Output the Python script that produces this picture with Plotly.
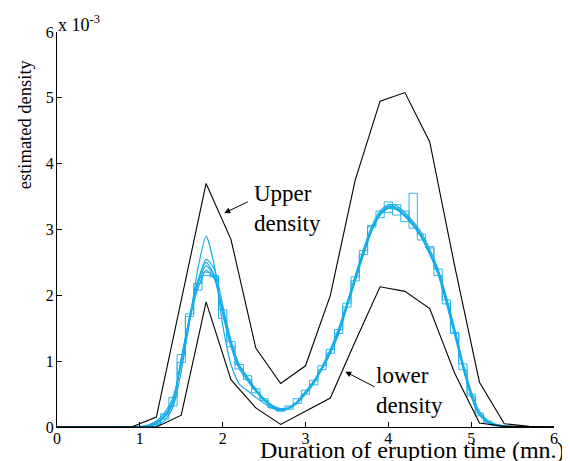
import plotly.graph_objects as go

# ---- data (density values in units of 1e-3) ----
bound_x = [0.0, 0.3, 0.6, 0.9, 1.2, 1.5, 1.8, 2.1, 2.4, 2.7, 3.0, 3.3, 3.6, 3.9, 4.2, 4.5, 4.8, 5.1, 5.4, 5.7, 6.0]
upper_density = [0, 0, 0, 0, 0.15, 1.93, 3.70, 2.85, 1.20, 0.66, 0.93, 2.00, 3.75, 4.95, 5.08, 4.33, 2.45, 0.68, 0.05, 0.01, 0]
lower_density = [0, 0, 0, 0, 0.0, 0.18, 1.90, 0.72, 0.29, 0.04, 0.24, 0.44, 1.30, 2.13, 2.06, 1.80, 0.82, 0.06, 0.01, 0, 0]

grid_x = [0.0, 1.0, 1.1, 1.2, 1.3, 1.4, 1.5, 1.6, 1.7, 1.8, 1.9, 2.0, 2.1, 2.2, 2.3, 2.4, 2.5, 2.6, 2.7, 2.8, 2.9,
          3.0, 3.1, 3.2, 3.3, 3.4, 3.5, 3.6, 3.7, 3.8, 3.9, 4.0, 4.1, 4.2, 4.3, 4.4, 4.5, 4.6, 4.7, 4.8, 4.9,
          5.0, 5.1, 5.2, 5.3, 5.4, 5.5, 5.6, 6.0]

smooth_1 = [0, 0.00, 0.01, 0.05, 0.15, 0.35, 1.05, 1.63, 2.10, 2.38, 2.25, 1.75, 1.27, 0.92, 0.74, 0.56, 0.41, 0.31, 0.26, 0.29, 0.38,
            0.53, 0.68, 0.90, 1.15, 1.45, 1.85, 2.25, 2.65, 3.00, 3.22, 3.32, 3.30, 3.20, 3.06, 2.88, 2.62, 2.34, 1.92, 1.43, 0.92,
            0.48, 0.19, 0.08, 0.03, 0.01, 0.00, 0.00, 0]
smooth_2 = [0, 0.00, 0.02, 0.07, 0.18, 0.40, 1.00, 1.68, 2.22, 2.50, 2.30, 1.72, 1.22, 0.88, 0.70, 0.54, 0.40, 0.30, 0.25, 0.28, 0.36,
            0.50, 0.66, 0.88, 1.12, 1.42, 1.82, 2.22, 2.62, 2.98, 3.24, 3.36, 3.33, 3.22, 3.08, 2.90, 2.64, 2.32, 1.88, 1.40, 0.90,
            0.46, 0.18, 0.07, 0.02, 0.01, 0.00, 0.00, 0]
smooth_3 = [0, 0.01, 0.03, 0.09, 0.22, 0.45, 0.95, 1.60, 2.20, 2.55, 2.40, 1.85, 1.32, 0.95, 0.76, 0.58, 0.43, 0.33, 0.28, 0.30, 0.39,
            0.54, 0.70, 0.92, 1.18, 1.50, 1.88, 2.30, 2.70, 3.05, 3.28, 3.38, 3.36, 3.26, 3.12, 2.95, 2.70, 2.40, 1.98, 1.50, 0.98,
            0.54, 0.24, 0.10, 0.04, 0.02, 0.01, 0.00, 0]
smooth_4 = [0, 0.00, 0.00, 0.02, 0.10, 0.30, 0.85, 1.60, 2.40, 2.90, 2.45, 1.55, 0.95, 0.65, 0.55, 0.45, 0.36, 0.28, 0.25, 0.28, 0.37,
            0.52, 0.67, 0.88, 1.12, 1.42, 1.82, 2.22, 2.62, 2.98, 3.22, 3.34, 3.31, 3.20, 3.06, 2.88, 2.63, 2.36, 1.95, 1.45, 0.93,
            0.48, 0.19, 0.08, 0.03, 0.01, 0.00, 0.00, 0]
smooth_5 = [0, 0.00, 0.01, 0.06, 0.16, 0.38, 1.02, 1.65, 2.16, 2.45, 2.28, 1.78, 1.28, 0.93, 0.73, 0.55, 0.41, 0.31, 0.27, 0.29, 0.38,
            0.52, 0.69, 0.91, 1.16, 1.47, 1.86, 2.27, 2.67, 3.02, 3.25, 3.35, 3.33, 3.23, 3.09, 2.91, 2.66, 2.37, 1.94, 1.46, 0.94,
            0.50, 0.20, 0.08, 0.03, 0.01, 0.00, 0.00, 0]

step_1 = [0, 0.00, 0.02, 0.06, 0.20, 0.45, 1.10, 1.68, 2.08, 2.35, 2.28, 1.78, 1.30, 0.95, 0.72, 0.58, 0.40, 0.30, 0.24, 0.32, 0.36,
          0.56, 0.64, 0.93, 1.12, 1.48, 1.82, 2.28, 2.62, 3.06, 3.18, 3.42, 3.22, 3.28, 3.02, 2.93, 2.72, 2.30, 1.93, 1.42, 0.96,
          0.47, 0.21, 0.07, 0.03, 0.00, 0.00, 0.00, 0]
step_2 = [0, 0.00, 0.00, 0.04, 0.12, 0.32, 0.98, 1.72, 2.18, 2.30, 2.30, 1.65, 1.22, 0.88, 0.78, 0.52, 0.43, 0.29, 0.27, 0.27, 0.43,
          0.50, 0.71, 0.87, 1.18, 1.42, 1.88, 2.22, 2.68, 3.04, 3.28, 3.26, 3.38, 3.12, 3.55, 2.84, 2.74, 2.40, 1.87, 1.44, 0.87,
          0.50, 0.17, 0.09, 0.02, 0.01, 0.00, 0.00, 0]

x_ticks = [0, 1, 2, 3, 4, 5, 6]
y_ticks = [0, 1, 2, 3, 4, 5, 6]

BLUE = "#17ade8"
FONT = "Liberation Serif, Times New Roman, serif"

fig = go.Figure()
for s in [smooth_1, smooth_2, smooth_3, smooth_4, smooth_5]:
    fig.add_trace(go.Scatter(x=grid_x, y=s, mode="lines", line=dict(color=BLUE, width=1.2, shape="spline", smoothing=0.6),
                             hoverinfo="skip", showlegend=False))
for s in [step_1, step_2]:
    fig.add_trace(go.Scatter(x=grid_x, y=s, mode="lines", line=dict(color=BLUE, width=0.9, shape="hvh"),
                             hoverinfo="skip", showlegend=False))
fig.add_trace(go.Scatter(x=bound_x, y=upper_density, mode="lines", line=dict(color="black", width=1.1),
                         showlegend=False, hoverinfo="skip"))
fig.add_trace(go.Scatter(x=bound_x, y=lower_density, mode="lines", line=dict(color="black", width=1.1),
                         showlegend=False, hoverinfo="skip"))

# The page body has an 8px margin, so the figure is shifted by 8px; compensate.
OFF = 8
PL, PR, PT, PB = 57, 557, 32, 427   # plot area in page pixels
W, H = 570 - OFF, 461 - OFF
L, T = PL - OFF, PT - OFF
R = W - (PR - OFF)
B = H - (PB - OFF)
pw, ph = PR - PL, PB - PT

def px(xp):
    return (xp - PL) / pw

def py(yp):
    return (PB - yp) / ph

axis_common = dict(showline=True, linecolor="black", linewidth=1, ticks="inside", ticklen=5, tickcolor="black",
                   showgrid=False, zeroline=False, tickfont=dict(family=FONT, size=16, color="black"), mirror=False)

fig.update_layout(
    width=W, height=H,
    margin=dict(l=L, r=R, t=T, b=B),
    plot_bgcolor="white", paper_bgcolor="white",
    xaxis=dict(range=[0, 6], tickvals=x_ticks, ticktext=[str(v) for v in x_ticks], ticklabelstandoff=-3, **axis_common),
    yaxis=dict(range=[0, 6], tickvals=y_ticks, ticktext=[str(v) for v in y_ticks], ticklabelstandoff=-1, **axis_common),
    font=dict(family=FONT, color="black"),
)

ann = [
    dict(text="x 10<sup>-3</sup>", xref="paper", yref="paper", x=px(56), y=py(24), xanchor="left", yanchor="middle",
         showarrow=False, font=dict(size=18)),
    dict(text="estimated density", xref="paper", yref="paper", x=px(25), y=py(124), textangle=-90,
         xanchor="center", yanchor="middle", showarrow=False, font=dict(size=18.5)),
    dict(text="Duration of eruption time (mn.)", xref="paper", yref="paper", x=px(570), y=py(450),
         xanchor="right", yanchor="middle", showarrow=False, font=dict(size=24)),
    dict(text="Upper<br>density", xref="paper", yref="paper", x=px(253), y=py(209), xanchor="left", yanchor="middle",
         align="left", showarrow=False, font=dict(size=23)),
    dict(text="lower<br>density", xref="paper", yref="paper", x=px(376), y=py(390), xanchor="left", yanchor="middle",
         align="left", showarrow=False, font=dict(size=23)),
    dict(text="", x=2.02, y=3.25, xref="x", yref="y", ax=25, ay=-12, showarrow=True, arrowhead=2, arrowsize=1.2,
         arrowwidth=1, arrowcolor="black"),
    dict(text="", x=3.48, y=0.84, xref="x", yref="y", ax=31, ay=16, showarrow=True, arrowhead=2, arrowsize=1.2,
         arrowwidth=1, arrowcolor="black"),
]
fig.update_layout(annotations=ann)

fig.write_html("out.html")
